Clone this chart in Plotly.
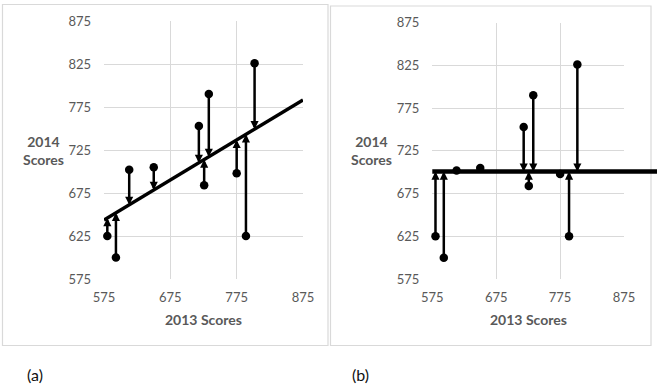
import numpy as np
import plotly.graph_objects as go

# Data
scores_2013 = [580, 593, 613, 650, 718, 726, 733, 775, 789, 802]
scores_2014 = [625, 600, 702, 705, 753, 684, 790, 698, 625, 826]
tick_vals = [575, 675, 775, 875]
ytick_vals = [575, 625, 675, 725, 775, 825, 875]
panel_labels = ["(a)", "(b)"]

x = np.array(scores_2013, dtype=float)
y = np.array(scores_2014, dtype=float)
slope, intercept = np.polyfit(x, y, 1)
pred_reg = slope * x + intercept
mean_y = y.mean()

W, H = 657, 384
GRID = "#d9d9d9"
TXT = "#595959"
FONT = "Lato"

def px(v):
    return v / W

def py(v):
    return 1 - v / H

fig = go.Figure()

# Regression line (a)
xl = np.array([tick_vals[0], tick_vals[-1]], dtype=float)
fig.add_trace(go.Scatter(x=xl, y=slope * xl + intercept, mode="lines",
                         line=dict(color="black", width=3.5),
                         xaxis="x", yaxis="y", hoverinfo="skip"))
# points (a)
fig.add_trace(go.Scatter(x=x, y=y, mode="markers",
                         marker=dict(color="black", size=8.5),
                         xaxis="x", yaxis="y", cliponaxis=False))
# points (b)
fig.add_trace(go.Scatter(x=x, y=y, mode="markers",
                         marker=dict(color="black", size=8.5),
                         xaxis="x2", yaxis="y2", cliponaxis=False))

annotations = []
for xi, yi, pr in zip(x, y, pred_reg):
    annotations.append(dict(x=xi, y=pr, ax=xi, ay=yi, xref="x", yref="y",
                            axref="x", ayref="y", showarrow=True, text="",
                            arrowhead=2, arrowsize=0.65, arrowwidth=2.5,
                            arrowcolor="black", standoff=0))
for xi, yi in zip(x, y):
    annotations.append(dict(x=xi, y=mean_y, ax=xi, ay=yi, xref="x2", yref="y2",
                            axref="x2", ayref="y2", showarrow=True, text="",
                            arrowhead=2, arrowsize=0.65, arrowwidth=2.5,
                            arrowcolor="black", standoff=0))

titles = [
    (43, 150, "<b>2014<br>Scores</b>"),
    (203, 319, "<b>2013 Scores</b>"),
    (371, 150, "<b>2014<br>Scores</b>"),
    (528, 319, "<b>2013 Scores</b>"),
]
for tx, ty, t in titles:
    annotations.append(dict(x=px(tx), y=py(ty), xref="paper", yref="paper",
                            text=t, showarrow=False, xanchor="center", yanchor="middle",
                            font=dict(family=FONT, size=14, color=TXT)))
for lx, lab in zip([35, 360], panel_labels):
    annotations.append(dict(x=px(lx), y=py(374), xref="paper", yref="paper",
                            text=lab, showarrow=False, xanchor="center", yanchor="middle",
                            font=dict(family=FONT, size=16, color="#111111")))

shapes = [
    dict(type="rect", xref="paper", yref="paper", x0=px(2.5), x1=px(328),
         y0=py(345.5), y1=py(4.5), line=dict(color=GRID, width=1.2)),
    dict(type="rect", xref="paper", yref="paper", x0=px(330.5), x1=px(651),
         y0=py(345.5), y1=py(6), line=dict(color=GRID, width=1.2)),
    # mean line in (b), extends past the plot to the right edge
    dict(type="line", xref="paper", yref="y2", x0=px(432.3), x1=1.0,
         y0=mean_y, y1=mean_y, line=dict(color="black", width=4.5), layer="above"),
]

axcommon = dict(showgrid=True, gridcolor=GRID, gridwidth=1, zeroline=False,
                showline=False, ticks="", tickfont=dict(family=FONT, size=13, color=TXT),
                fixedrange=True, automargin=False)

fig.update_layout(
    width=W, height=H, margin=dict(l=0, r=0, t=0, b=0, pad=0, autoexpand=False),
    paper_bgcolor="white", plot_bgcolor="white", showlegend=False,
    xaxis=dict(domain=[px(104), px(303)], range=[575, 875], tickvals=tick_vals,
               anchor="y", ticklabelstandoff=9, **axcommon),
    yaxis=dict(domain=[py(279), py(21)], range=[575, 875], tickvals=ytick_vals,
               anchor="x", ticklabelstandoff=12, **axcommon),
    xaxis2=dict(domain=[px(432.3), px(624)], range=[575, 875], tickvals=tick_vals,
                anchor="y2", ticklabelstandoff=9, **axcommon),
    yaxis2=dict(domain=[py(279), py(22.7)], range=[575, 875], tickvals=ytick_vals,
                anchor="x2", ticklabelstandoff=12, **axcommon),
    annotations=annotations,
    shapes=shapes,
)

fig.write_html("out.html")
